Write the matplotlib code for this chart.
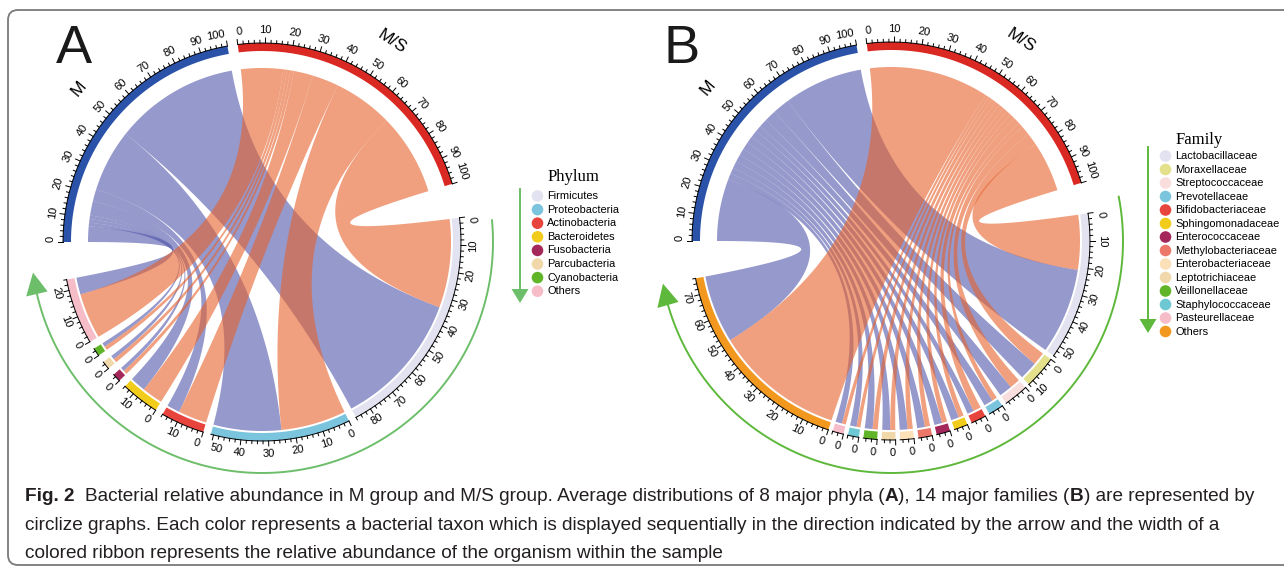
import numpy as np
import matplotlib.pyplot as plt
from matplotlib.patches import Polygon, FancyBboxPatch
from matplotlib import font_manager

# Grupos (filas de la matriz)
groups = ['M', 'M/S']
group_colors = ['#2A52A8', '#DA2822']
link_colors = ['#5055AA', '#E6612A']

# Panel A: filos
phyla = ['Firmicutes', 'Proteobacteria', 'Actinobacteria', 'Bacteroidetes',
         'Fusobacteria', 'Parcubacteria', 'Cyanobacteria', 'Others']
phyla_colors = ['#E2E2F0', '#7AC4DE', '#E8443E', '#F2CC1A',
                '#A4285A', '#F0D8AA', '#60B428', '#F6BCC8']
phyla_M = [52, 26, 5, 6, 1.5, 1.5, 1.5, 6.5]
phyla_MS = [34, 25, 11, 8, 1.5, 1.5, 1.5, 17.5]

# Panel B: familias
families = ['Lactobacillaceae', 'Moraxellaceae', 'Streptococcaceae', 'Prevotellaceae',
            'Bifidobacteriaceae', 'Sphingomonadaceae', 'Enterococcaceae',
            'Methylobacteriaceae', 'Enterobacteriaceae', 'Leptotrichiaceae',
            'Veillonellaceae', 'Staphylococcaceae', 'Pasteurellaceae', 'Others']
family_colors = ['#E2E2F0', '#E4E08C', '#FADEDE', '#7AC4DE', '#E8443E', '#F2CC1A',
                 '#A4285A', '#EC7668', '#FCE0B8', '#F0D8AA', '#60B428', '#6EC8D4',
                 '#F6BCC8', '#F2981E']
family_M = [33, 7, 5, 3.5, 2.5, 3, 3, 3, 3, 3, 3, 2.5, 2.5, 26]
family_MS = [21, 5, 4, 2, 3, 2, 2, 2, 2, 2, 2, 1.5, 1.5, 50]

caption = [
    [('Fig. 2', 'bold'),
     ('Bacterial relative abundance in M group and M/S group. Average distributions of 8 major phyla (', 'normal'),
     ('A', 'bold'), ('), 14 major families (', 'normal'), ('B', 'bold'),
     (') are represented by', 'normal')],
    [('circlize graphs. Each color represents a bacterial taxon which is displayed sequentially '
      'in the direction indicated by the arrow and the width of a', 'normal')],
    [('colored ribbon represents the relative abundance of the organism within the sample', 'normal')],
]

SANS = 'Liberation Sans'
SERIF = 'Liberation Serif'

W, H = 1284, 569
fig = plt.figure(figsize=(W / 100, H / 100), dpi=100)
ax = fig.add_axes([0, 0, 1, 1])
ax.set_xlim(0, W)
ax.set_ylim(H, 0)
ax.axis('off')


def polar(cx, cy, r, th):
    t = np.radians(th)
    return cx + r * np.cos(t), cy - r * np.sin(t)


def arc_pts(cx, cy, r, th0, th1):
    n = max(4, int(abs(th1 - th0) * 3) + 2)
    x, y = polar(cx, cy, r, np.linspace(th0, th1, n))
    return np.column_stack([x, y])


def bezier(cx, cy, p0, p2, n=80):
    t = np.linspace(0, 1, n)[:, None]
    c = np.array([cx, cy])
    return (1 - t) ** 2 * p0 + 2 * (1 - t) * t * c + t ** 2 * p2


def ribbon(cx, cy, r1, a0, a1, r2, b0, b1):
    s = arc_pts(cx, cy, r1, a0, a1)
    t = arc_pts(cx, cy, r2, b0, b1)
    return np.vstack([s, bezier(cx, cy, s[-1], t[0]), t, bezier(cx, cy, t[-1], s[0])])


def upper(th):
    return th % 360 <= 180


def tangent_rot(th):
    th = th % 360
    return th - 90 if th <= 180 else th - 270


def chord_diagram(cx, cy, colors, vals_m, vals_ms, gaps, R=199, start=180.0):
    sizes = [100, 100] + [a + b for a, b in zip(vals_m, vals_ms)]
    sec_colors = group_colors + colors
    scale = (360 - sum(gaps)) / sum(sizes)
    px_per_unit = R * np.radians(scale)
    starts = []
    th = start
    for size, gap in zip(sizes, gaps):
        starts.append(th)
        th -= size * scale + gap

    def ang(k, v):
        return starts[k] - v * scale

    r_in = R - 8
    r_grp = r_in - 17
    r_tax = r_in - 2
    vals = [vals_m, vals_ms]
    ntax = len(colors)

    # cintas: primero M, luego M/S encima
    for g in (0, 1):
        pos = 0.0
        for t in reversed(range(ntax)):
            w = vals[g][t]
            off = 0.0 if g == 1 else vals_ms[t]
            pts = ribbon(cx, cy, r_grp, ang(g, pos), ang(g, pos + w),
                         r_tax, ang(2 + t, off), ang(2 + t, off + w))
            ax.add_patch(Polygon(pts, closed=True, fc=link_colors[g], ec='none',
                                 alpha=0.6, lw=0))
            pos += w

    # sectores, ejes y etiquetas
    for k, size in enumerate(sizes):
        a0, a1 = ang(k, 0), ang(k, size)
        outer = arc_pts(cx, cy, R, a0, a1)
        inner = arc_pts(cx, cy, r_in, a1, a0)
        ax.add_patch(Polygon(np.vstack([outer, inner]), closed=True,
                             fc=sec_colors[k], ec='none'))
        ax.plot(outer[:, 0], outer[:, 1], color='black', lw=0.7)
        for v in range(0, int(size) + 1, 2):
            th = ang(k, v)
            major = v % 10 == 0
            x, y = polar(cx, cy, np.array([R, R + (5 if major else 2.8)]), th)
            ax.plot(x, y, color='black', lw=0.7)
            if major:
                label = str(v)
                half = len(label) * 2.4 / px_per_unit
                ha = 'center'
                if v == 0:
                    ha = 'left' if upper(th) else 'right'
                elif size - v < half:
                    ha = 'right' if upper(th) else 'left'
                lx, ly = polar(cx, cy, R + 12.5, th)
                ax.text(lx, ly, label, fontsize=8, family=SANS, ha=ha,
                        va='center', rotation=tangent_rot(th), rotation_mode='anchor')
        if k < 2:
            th = ang(k, size / 2)
            lx, ly = polar(cx, cy, R + 40, th)
            ax.text(lx, ly, groups[k], fontsize=12.5, family=SANS, ha='center',
                    va='center', rotation=tangent_rot(th), rotation_mode='anchor')


def circle_arrow(cx, cy, r, th0, th1, color):
    pts = arc_pts(cx, cy, r, th0, th1)
    ax.plot(pts[:, 0], pts[:, 1], color=color, lw=1.4)
    b1 = polar(cx, cy, r - 11, th1)
    b2 = polar(cx, cy, r + 11, th1)
    tip = polar(cx, cy, r, th1 - 5.4)
    ax.add_patch(Polygon([b1, b2, tip], closed=True, fc=color, ec='none'))


def legend(x_arrow, y_top, y_base, title, title_y, names, colors, y0, step, color):
    ax.plot([x_arrow, x_arrow], [y_top, y_base], color=color, lw=1.4)
    ax.add_patch(Polygon([(x_arrow - 8.5, y_base), (x_arrow + 8.5, y_base),
                          (x_arrow, y_base + 14)], closed=True, fc=color, ec='none'))
    ax.text(x_arrow + 28, title_y, title, fontsize=12, family=SERIF,
            ha='left', va='center')
    for i, (n, c) in enumerate(zip(names, colors)):
        y = y0 + i * step
        ax.add_patch(plt.Circle((x_arrow + 17.5, y), 5.8, fc=c, ec='none'))
        ax.text(x_arrow + 27, y, n, fontsize=7.9, family=SANS, ha='left', va='center')


# Panel A
chord_diagram(262, 242, phyla_colors, phyla_M, phyla_MS,
              gaps=[3, 10] + [2.3] * 7 + [10.9])
circle_arrow(262, 242, 231, 5.4, -167, '#6DBE6A')
legend(520, 189, 289, 'Phylum', 177, phyla, phyla_colors, 196, 13.6, '#6DBE6A')
ax.text(74, 49, 'A', fontsize=39, family=SANS, ha='center', va='center', color='#1a1a1a')

# Panel B
chord_diagram(891, 241, family_colors, family_M, family_MS,
              gaps=[3, 9] + [1.32] * 13 + [10.84])
circle_arrow(891, 241, 232, 11, -164, '#5DB83B')
legend(1148, 147, 319, 'Family', 140, families, family_colors, 156, 13.5, '#5DB83B')
ax.text(682, 49, 'B', fontsize=39, family=SANS, ha='center', va='center', color='#1a1a1a')

# Marco
ax.add_patch(FancyBboxPatch((8, 10), 1300, 555, boxstyle='round,pad=0,rounding_size=10',
                            fc='none', ec='#7A7A7A', lw=1.3))

# Pie de figura
avail = {f.name for f in font_manager.fontManager.ttflist}
cap_font = 'Liberation Sans Narrow' if 'Liberation Sans Narrow' in avail else SANS
renderer = fig.canvas.get_renderer()


def text_width(s, size, weight):
    t = ax.text(0, 0, s, fontsize=size, fontweight=weight, family=cap_font)
    w = t.get_window_extent(renderer).width
    t.remove()
    return w


def line_width(pieces, size):
    sp = text_width('x x', size, 'normal') - text_width('xx', size, 'normal')
    total = 0.0
    for i, (s, w) in enumerate(pieces):
        total += text_width(s, size, w)
        if i == 0 and s == 'Fig. 2':
            total += 2 * sp
    return total, sp


size = 10 * 1239 / line_width(caption[0], 10)[0]
for pieces, y in zip(caption, [496, 525, 553]):
    x = 25
    _, sp = line_width(pieces, size)
    for i, (s, w) in enumerate(pieces):
        ax.text(x, y, s, fontsize=size, fontweight=w, family=cap_font,
                ha='left', va='center', color='#231F20')
        x += text_width(s, size, w)
        if i == 0 and s == 'Fig. 2':
            x += 2 * sp

fig.savefig('out.png', dpi=100)
